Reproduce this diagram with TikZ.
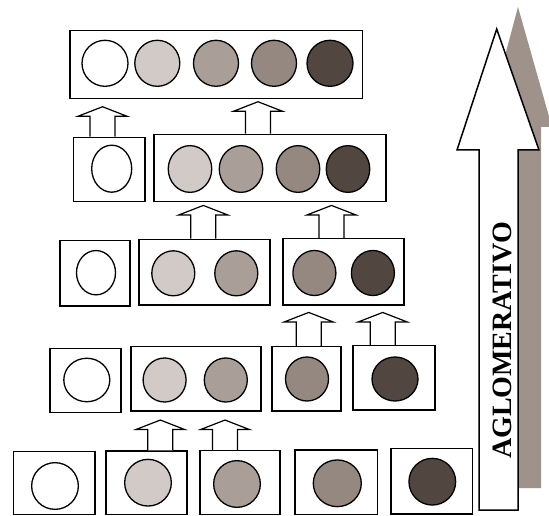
\documentclass[tikz,border=0pt]{standalone}
\usepackage{fontspec}
\setmainfont{Liberation Serif}
\usetikzlibrary{calc,fit,shapes.geometric}
\definecolor{cA}{RGB}{255,255,255}
\definecolor{cB}{RGB}{210,202,198}
\definecolor{cC}{RGB}{170,159,152}
\definecolor{cD}{RGB}{148,136,128}
\definecolor{cE}{RGB}{82,70,64}
\definecolor{arrgray}{RGB}{158,146,138}
\tikzset{
  grp/.style={draw=black, line width=1.5pt, rectangle, inner sep=0pt},
  ball/.style={draw=black, line width=1.3pt, ellipse, inner sep=0pt},
  blk/.style={draw=black, line width=1.2pt, fill=white, line join=miter},
}
% #1 x centre, #2 lower box, #3 upper box, #4 gap below upper box
\newcommand\blkarrow[4]{%
  \coordinate (tmpx) at (#1,0);
  \draw[blk] let \p1=(tmpx |- #2.north), \p2=(tmpx |- #3.south) in
    (\x1-12.5pt,\y1) -- (\x1-12.5pt,\y2-#4pt-9.5pt) -- (\x1-24.5pt,\y2-#4pt-9.5pt)
    -- (\x1,\y2-#4pt) -- (\x1+24.5pt,\y2-#4pt-9.5pt) -- (\x1+12.5pt,\y2-#4pt-9.5pt)
    -- (\x1+12.5pt,\y1);}
\newcommand\grpbox[5]{\node[grp, fit={(#2,#3)(#4,#5)}] (#1) {};}
\newcommand\ballat[6]{\node[ball, minimum width=#4pt, minimum height=#5pt, fill=#6] (#1) at (#2,#3) {};}
\begin{document}
\begin{tikzpicture}[x=1pt,y=-1pt]
\useasboundingbox (0,0) rectangle (549,516);
\fill[white] (0,0) rectangle (549,516);

% big arrows
\fill[arrgray] (518,7) -- (552,127) -- (541,127) -- (541,488) -- (515,488)
  -- (515,127) -- (486,127) -- cycle;
\draw[line width=1.5pt, fill=white, line join=miter] (496.7,29) -- (539,150) -- (518,150)
  -- (518,510) -- (479,510) -- (479,150) -- (457,150) -- cycle;
\node[rotate=90, font=\fontsize{28}{28}\selectfont\bfseries] (lbl) at (502,340.5) {AGLOMERATIVO};

% row 1
\grpbox{r1}{70}{30.7}{362.5}{98.3}
\ballat{r1a}{105}{63.3}{46}{46}{cA}
\ballat{r1b}{157.3}{63.3}{45}{46}{cB}
\ballat{r1c}{216}{63.3}{45}{46}{cC}
\ballat{r1d}{274}{63.3}{45}{46}{cD}
\ballat{r1e}{330}{63.3}{46}{46}{cE}

% row 2
\grpbox{r2L}{73.5}{137.3}{145}{201.7}
\grpbox{r2R}{154}{134.3}{386}{201.7}
\ballat{r2a}{111.7}{168.7}{40}{47}{cA}
\ballat{r2b}{190}{169}{43.5}{46.7}{cB}
\ballat{r2c}{241}{169}{43.5}{46.7}{cC}
\ballat{r2d}{298}{169}{43.5}{46.7}{cD}
\ballat{r2e}{348}{169}{43.5}{46.7}{cE}

% row 3
\grpbox{r3A}{60}{240.7}{130}{306}
\grpbox{r3B}{139}{239.3}{270}{305}
\grpbox{r3C}{283}{238.7}{404}{305}
\ballat{r3a}{96}{272.7}{39}{44.3}{cA}
\ballat{r3b}{173.3}{273.3}{43}{45}{cB}
\ballat{r3c}{236.3}{273.3}{43}{45}{cC}
\ballat{r3d}{314.4}{273}{43}{45}{cD}
\ballat{r3e}{372.9}{273}{43}{45}{cE}

% row 4
\grpbox{r4A}{50}{348.3}{121}{412.3}
\grpbox{r4B}{131}{346.7}{261}{411}
\grpbox{r4C}{272}{346.7}{341}{411}
\grpbox{r4D}{353}{345.7}{435}{410}
\ballat{r4a}{86.8}{380}{46}{43.5}{cA}
\ballat{r4b}{164.6}{380}{43}{44}{cB}
\ballat{r4c}{225.8}{380}{43}{44}{cC}
\ballat{r4d}{307}{379}{43}{44}{cD}
\ballat{r4e}{395}{379}{46}{44}{cE}

% row 5
\grpbox{r5A}{13.5}{451.7}{95}{514.5}
\grpbox{r5B}{106}{451}{187}{514.5}
\grpbox{r5C}{200}{450.5}{280}{514.5}
\grpbox{r5D}{295}{450}{377.3}{514.5}
\grpbox{r5E}{391}{448.3}{472.7}{514}
\ballat{r5a}{55}{486}{46.7}{46.7}{cA}
\ballat{r5b}{148}{482.7}{46.7}{46.7}{cB}
\ballat{r5c}{237}{484}{46.7}{46.7}{cC}
\ballat{r5d}{337.3}{483.3}{48}{46.7}{cD}
\ballat{r5e}{432.3}{481.7}{46.7}{46.7}{cE}

% merge arrows
\blkarrow{160.3}{r5B}{r4B}{8.3}
\blkarrow{225}{r5C}{r4B}{8.3}
\blkarrow{308.7}{r4C}{r3C}{6.7}
\blkarrow{382.7}{r4D}{r3C}{6.7}
\blkarrow{203.3}{r3B}{r2R}{3}
\blkarrow{331.5}{r3C}{r2R}{3}
\blkarrow{102.5}{r2L}{r1}{7.7}
\blkarrow{258}{r2R}{r1}{2.7}
\end{tikzpicture}
\end{document}
